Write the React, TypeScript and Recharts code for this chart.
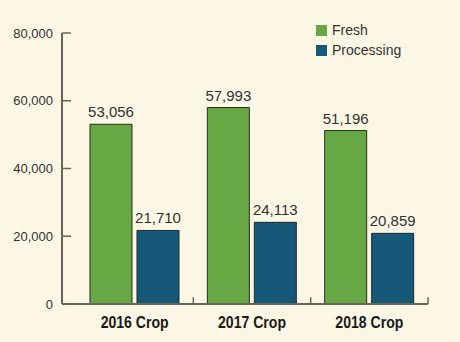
import React from "react";
import {
  Bar,
  BarChart,
  LabelList,
  Legend,
  ReferenceLine,
  XAxis,
  YAxis,
} from "recharts";

const crops = ["2016 Crop", "2017 Crop", "2018 Crop"];
const fresh = [53056, 57993, 51196];
const processing = [21710, 24113, 20859];
const yTicks = [0, 20000, 40000, 60000, 80000];

const data = crops.map((crop, i) => ({
  crop,
  fresh: fresh[i],
  processing: processing[i],
}));

const BG = "#fcf6e4";
const GREEN = "#67a844";
const BLUE = "#165878";
const AXIS = "#66665c";
const TEXT = "#333333";
const FONT = "'Liberation Sans', Arial, sans-serif";

const fmt = (v: number) => v.toLocaleString("en-US");

function YTick(props: any) {
  const { x, y, payload } = props;
  return (
    <g>
      <line x1={x} x2={x + 9} y1={y} y2={y} stroke={AXIS} strokeWidth={1.5} />
      <text
        x={x - 9}
        y={y}
        dy="0.35em"
        textAnchor="end"
        fill={TEXT}
        fontSize={13}
        fontFamily={FONT}
      >
        {fmt(payload.value)}
      </text>
    </g>
  );
}

// condensed bold category label
function XTick(props: any) {
  const { x, y, payload } = props;
  return (
    <g transform={`translate(${x},${y}) scale(0.88,1)`}>
      <text
        x={0}
        y={0}
        dy="0.71em"
        textAnchor="middle"
        fill="#1a1a1a"
        fontSize={16}
        fontWeight={700}
        fontFamily={FONT}
      >
        {payload.value}
      </text>
    </g>
  );
}

function LegendBox() {
  const items = [
    { name: "Fresh", color: GREEN },
    { name: "Processing", color: BLUE },
  ];
  return (
    <div style={{ fontFamily: FONT, fontSize: 14, color: TEXT }}>
      {items.map((it) => (
        <div
          key={it.name}
          style={{ display: "flex", alignItems: "center", height: 20 }}
        >
          <span
            style={{
              display: "inline-block",
              width: 11,
              height: 11,
              background: it.color,
              marginRight: 5,
            }}
          />
          {it.name}
        </div>
      ))}
    </div>
  );
}

export default function App() {
  return (
    <div
      style={{
        position: "absolute",
        left: 0,
        top: 0,
        width: 460,
        height: 342,
        background: BG,
      }}
    >
      <BarChart
        width={460}
        height={342}
        data={data}
        margin={{ top: 33, right: 32, bottom: 8, left: 0 }}
        barCategoryGap={14}
        barGap={5}
      >
        <XAxis
          dataKey="crop"
          height={30}
          padding={{ left: 14, right: 0 }}
          axisLine={{ stroke: AXIS, strokeWidth: 2 }}
          tickLine={false}
          tickSize={0}
          tickMargin={13}
          tick={<XTick />}
        />
        <YAxis
          width={62}
          domain={[0, 80000]}
          ticks={yTicks}
          axisLine={{ stroke: AXIS, strokeWidth: 2 }}
          tickLine={false}
          tickSize={0}
          tickMargin={0}
          tick={<YTick />}
        />
        {crops.map((c) => (
          <ReferenceLine
            key={c}
            segment={[
              { x: c, y: 0 },
              { x: c, y: 2000 },
            ]}
            position="end"
            stroke={AXIS}
            strokeWidth={1.5}
            ifOverflow="visible"
          />
        ))}
        <Legend
          layout="vertical"
          align="center"
          verticalAlign="middle"
          wrapperStyle={{ top: 20, left: 316, width: 120 }}
          content={<LegendBox />}
        />
        <Bar
          dataKey="fresh"
          name="Fresh"
          fill={GREEN}
          stroke="#24301c"
          strokeWidth={1}
          isAnimationActive={false}
        >
          <LabelList
            dataKey="fresh"
            position="top"
            offset={7}
            formatter={(v: any) => fmt(Number(v))}
            fill={TEXT}
            fontSize={15}
            fontFamily={FONT}
          />
        </Bar>
        <Bar
          dataKey="processing"
          name="Processing"
          fill={BLUE}
          stroke="#1c2a30"
          strokeWidth={1}
          isAnimationActive={false}
        >
          <LabelList
            dataKey="processing"
            position="top"
            offset={7}
            formatter={(v: any) => fmt(Number(v))}
            fill={TEXT}
            fontSize={15}
            fontFamily={FONT}
          />
        </Bar>
      </BarChart>
    </div>
  );
}
